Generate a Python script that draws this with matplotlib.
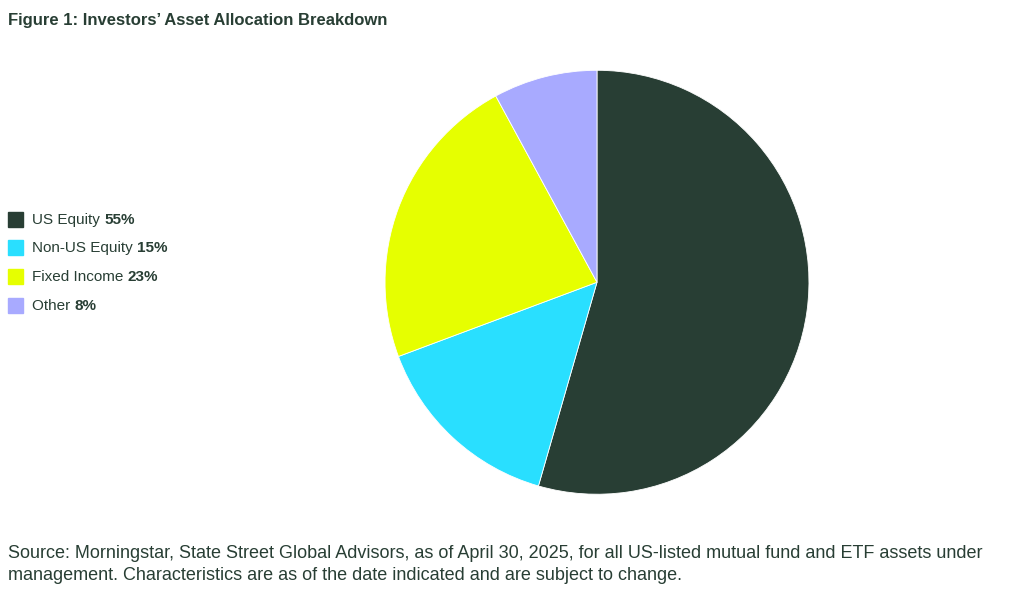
import matplotlib
matplotlib.use("Agg")
import matplotlib.pyplot as plt
from matplotlib.patches import Rectangle

labels = ["US Equity", "Non-US Equity", "Fixed Income", "Other"]
values = [55, 15, 23, 8]
colors = ["#283E34", "#29DFFF", "#E6FF00", "#A8AAFF"]
plt.rcParams['font.family'] = ['Liberation Sans', 'DejaVu Sans']

fig = plt.figure(figsize=(10.24, 5.98), dpi=100)
ax = fig.add_axes([0.583 - 0.207, 0.528 - 0.3545, 0.414, 0.709])
ax.pie(values, colors=colors, startangle=90, counterclock=False,
       wedgeprops=dict(linewidth=0.6, edgecolor="white"))
ax.set_xlim(-1, 1)
ax.set_ylim(-1, 1)
ax.set_aspect("equal")

fig.text(8/1024, 1 - 21/598, "Figure 1: Investors\u2019 Asset Allocation Breakdown",
         fontsize=12, fontweight="bold", color="#283E34", va="center")

ys = [220, 248, 277, 306]
for lab, v, c, y in zip(labels, values, colors, ys):
    fig.patches.append(Rectangle((8/1024, 1 - (y + 7)/598), 15/1024, 15/598,
                                 transform=fig.transFigure, color=c))
    t = fig.text(32/1024, 1 - y/598, lab + " ", fontsize=11, color="#283E34", va="center")
    fig.canvas.draw()
    bb = t.get_window_extent()
    fig.text(bb.x1/1024, 1 - y/598, f"{v}%", fontsize=11, fontweight="bold",
             color="#283E34", va="center")

fig.text(8/1024, 1 - 553/598,
         "Source: Morningstar, State Street Global Advisors, as of April 30, 2025, for all US-listed mutual fund and ETF assets under",
         fontsize=13, color="#283E34", va="center")
fig.text(8/1024, 1 - 575/598,
         "management. Characteristics are as of the date indicated and are subject to change.",
         fontsize=13, color="#283E34", va="center")

fig.savefig("out.png", dpi=100, facecolor="white")
